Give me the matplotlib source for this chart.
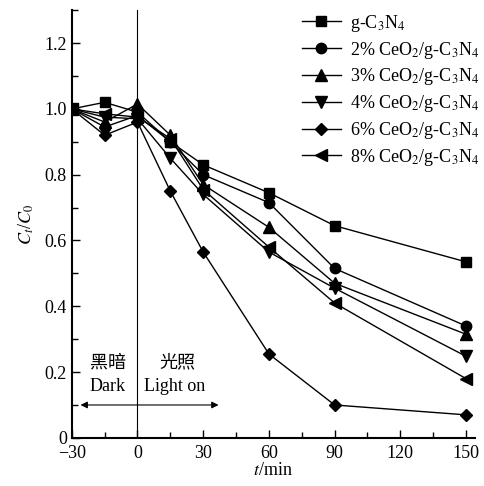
import matplotlib.pyplot as plt
from matplotlib.ticker import MultipleLocator

plt.rcParams['font.family'] = ['Liberation Serif', 'Noto Sans CJK SC']
plt.rcParams['mathtext.fontset'] = 'stix'

t = [-30, -15, 0, 15, 30, 60, 90, 150]
g_c3n4 = [1.0, 1.02, 0.99, 0.90, 0.83, 0.745, 0.645, 0.535]
ceo2_2 = [1.0, 0.945, 0.98, 0.90, 0.80, 0.715, 0.515, 0.34]
ceo2_3 = [1.0, 0.96, 1.015, 0.92, 0.77, 0.64, 0.47, 0.315]
ceo2_4 = [1.0, 0.975, 0.97, 0.85, 0.74, 0.565, 0.455, 0.248]
ceo2_6 = [1.0, 0.92, 0.96, 0.75, 0.565, 0.255, 0.10, 0.07]
ceo2_8 = [1.0, 0.985, 0.975, 0.91, 0.755, 0.58, 0.41, 0.18]

names = ['g-C$_3$N$_4$', '2% CeO$_2$/g-C$_3$N$_4$', '3% CeO$_2$/g-C$_3$N$_4$',
         '4% CeO$_2$/g-C$_3$N$_4$', '6% CeO$_2$/g-C$_3$N$_4$', '8% CeO$_2$/g-C$_3$N$_4$']
series = [g_c3n4, ceo2_2, ceo2_3, ceo2_4, ceo2_6, ceo2_8]
markers = ['s', 'o', '^', 'v', 'D', '<']
sizes = [7, 7.5, 8, 8, 6.5, 8]

fig = plt.figure(figsize=(4.85, 4.86), dpi=100)
ax = fig.add_axes([0.148, 0.099, 0.831, 0.880])

for y, name, m, s in zip(series, names, markers, sizes):
  ax.plot(t, y, color='black', marker=m, markersize=s, linewidth=1, label=name)

ax.axvline(0, color='black', linewidth=0.8)
ax.annotate('', xy=(-26, 0.1), xytext=(37, 0.1),
            arrowprops=dict(arrowstyle='<|-|>', color='black', lw=0.8,
                            mutation_scale=10, shrinkA=0, shrinkB=0))
ax.text(-13.5, 0.228, '黑暗', ha='center', va='center', fontsize=13)
ax.text(-13.5, 0.155, 'Dark', ha='center', va='center', fontsize=13)
ax.text(18, 0.228, '光照', ha='center', va='center', fontsize=13)
ax.text(17, 0.155, 'Light on', ha='center', va='center', fontsize=13)

ax.set_xlim(-30, 154)
ax.set_ylim(0, 1.3)
ax.set_xticks([-30, 0, 30, 60, 90, 120, 150])
ax.set_xticklabels(['\u221230', '0', '30', '60', '90', '120', '150'])
ax.set_yticks([0, 0.2, 0.4, 0.6, 0.8, 1.0, 1.2])
ax.set_yticklabels(['0', '0.2', '0.4', '0.6', '0.8', '1.0', '1.2'])
ax.xaxis.set_minor_locator(MultipleLocator(15))
ax.yaxis.set_minor_locator(MultipleLocator(0.1))
ax.tick_params(which='both', direction='in', labelsize=13, width=1)
ax.tick_params(which='major', length=6)
ax.tick_params(which='minor', length=4)
ax.tick_params(axis='x', pad=5)
ax.spines['top'].set_visible(False)
ax.spines['right'].set_visible(False)
ax.spines['left'].set_linewidth(1.5)
ax.spines['bottom'].set_linewidth(1.5)

ax.set_xlabel('$t$/min', fontsize=13, labelpad=0)
ax.set_ylabel('$C_t$/$C_0$', fontsize=13, labelpad=6)

ax.legend(loc='upper right', frameon=False, fontsize=13, handlelength=2.2,
          labelspacing=0.32, borderaxespad=0.1, handletextpad=0.5,
          bbox_to_anchor=(1.035, 1.015))

fig.savefig('out.png', dpi=100)
